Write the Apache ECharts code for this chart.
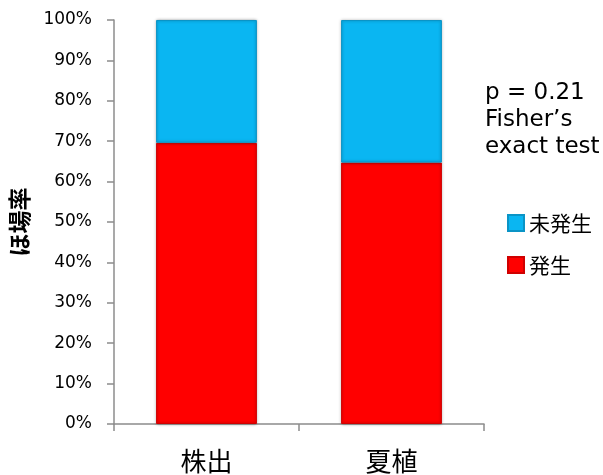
<!DOCTYPE html>
<html>
<head>
<meta charset="utf-8">
<script src="https://cdn.jsdelivr.net/npm/echarts@6/dist/echarts.min.js"></script>
<style>
  html, body { margin: 0; padding: 0; background: #fff; }
  #chart { width: 603px; height: 475px; }
</style>
</head>
<body>
<div id="chart"></div>
<script>
// Categories and stacked shares (%)
const categories = ['株出', '夏植'];
const occurred = [69.6, 64.7];        // 発生
const notOccurred = [30.4, 35.3];     // 未発生
const seriesNames = ['発生', '未発生'];
const yTicks = [0, 10, 20, 30, 40, 50, 60, 70, 80, 90, 100];
const noteLines = ['p = 0.21', 'Fisher\u2019s', 'exact test'];

const fontLatin = 'Verdana, "DejaVu Sans", sans-serif';
const fontCJK = '"Noto Sans CJK JP", sans-serif';
const axisGray = '#8c8c8c';

const chart = echarts.init(document.getElementById('chart'), null, { renderer: 'canvas' });

// soft edge around each bar segment
const barEdge = { shadowColor: 'rgba(0,0,0,0.35)', shadowBlur: 3 };

chart.setOption({
  animation: false,
  backgroundColor: '#fff',
  grid: { left: 114, right: 119, top: 20, bottom: 51, containLabel: false },
  legend: {
    orient: 'vertical',
    left: 502,
    top: 207,
    itemWidth: 16,
    itemHeight: 16,
    itemGap: 20,
    icon: 'rect',
    data: [seriesNames[1], seriesNames[0]],
    textStyle: { fontFamily: fontCJK, fontSize: 21, lineHeight: 22, color: '#000' }
  },
  xAxis: {
    type: 'category',
    data: categories,
    axisLine: { lineStyle: { color: axisGray, width: 1.5 } },
    axisTick: { show: true, length: 7, inside: false, lineStyle: { color: axisGray, width: 1.5 } },
    axisLabel: { fontFamily: fontCJK, fontSize: 26, color: '#000', margin: 24 }
  },
  yAxis: {
    type: 'value',
    min: 0,
    max: 100,
    interval: 10,
    name: 'ほ場率',
    nameLocation: 'middle',
    nameGap: 83,
    nameRotate: 90,
    nameTextStyle: { fontFamily: fontCJK, fontSize: 23, fontWeight: 'bold', color: '#000' },
    axisLine: { show: true, lineStyle: { color: axisGray, width: 1.5 } },
    axisTick: { show: true, length: 7, lineStyle: { color: axisGray, width: 1.5 } },
    splitLine: { show: false },
    axisLabel: {
      fontFamily: fontLatin, fontSize: 17, color: '#000', margin: 22,
      formatter: v => (yTicks.includes(v) ? v + '%' : '')
    }
  },
  graphic: [{
    type: 'text',
    left: 485,
    top: 80,
    style: {
      text: noteLines.join('\n'),
      font: '23px ' + fontLatin,
      lineHeight: 27,
      fill: '#000'
    }
  }],
  series: [
    {
      name: seriesNames[0],
      type: 'bar',
      stack: 'total',
      data: occurred,
      barWidth: '54.5%',
      itemStyle: Object.assign({ color: '#ff0000', borderColor: '#d00000', borderWidth: 1 }, barEdge)
    },
    {
      name: seriesNames[1],
      type: 'bar',
      stack: 'total',
      data: notOccurred,
      barWidth: '54.5%',
      itemStyle: Object.assign({ color: '#0ab6f2', borderColor: '#0a94c6', borderWidth: 1 }, barEdge)
    }
  ]
});
</script>
</body>
</html>
